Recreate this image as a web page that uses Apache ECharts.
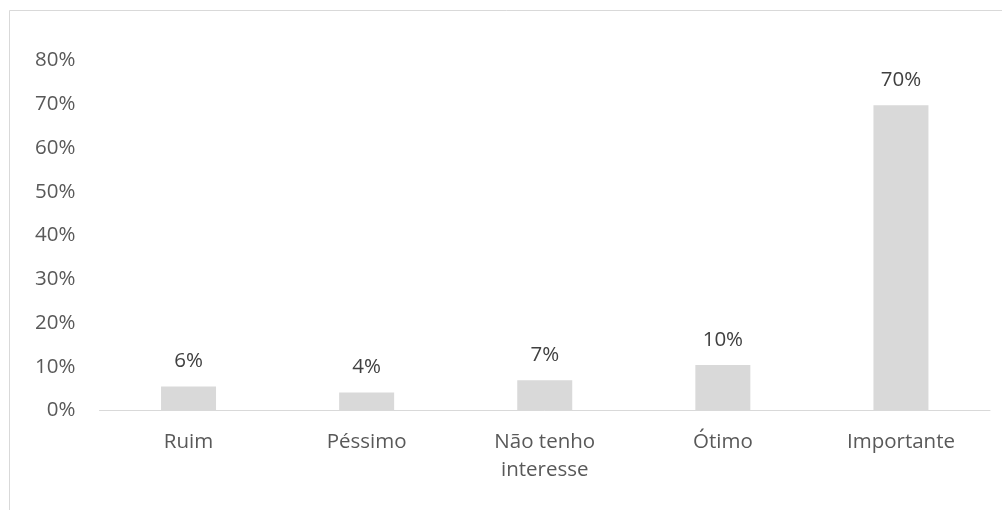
<!DOCTYPE html>
<html>
<head>
<meta charset="utf-8">
<script src="https://cdn.jsdelivr.net/npm/echarts@6/dist/echarts.min.js"></script>
<style>
  html, body { margin: 0; padding: 0; background: #ffffff; }
  #chart { width: 1002px; height: 510px; }
</style>
</head>
<body>
<div id="chart"></div>
<script>
// Survey answers (share of respondents, in percent)
const categories = ['Ruim', 'Péssimo', 'Não tenho\ninteresse', 'Ótimo', 'Importante'];
const shares = [5.5, 4.1, 6.9, 10.4, 69.8];

// Value axis range (percent)
const yMin = 0;
const yMax = 80;
const yStep = 10;

const fontFamily = '"Open Sans", "Noto Sans", sans-serif';
const axisTextColor = '#595959';
const labelTextColor = '#404040';
const lightGray = '#d9d9d9';
const textSize = 20.5;

const chart = echarts.init(document.getElementById('chart'), null, { renderer: 'canvas' });

chart.setOption({
  animation: false,
  backgroundColor: '#ffffff',
  textStyle: { fontFamily: fontFamily },
  graphic: [{
    type: 'rect',
    shape: { x: 9.5, y: 10.5, width: 1200, height: 700 },
    style: { fill: 'none', stroke: lightGray, lineWidth: 1 },
    silent: true,
    z: 0
  }],
  grid: { left: 99.5, right: 12, top: 60.5, bottom: 99.5, containLabel: false },
  xAxis: {
    type: 'category',
    data: categories,
    axisLine: { show: true, lineStyle: { color: lightGray, width: 1 } },
    axisTick: { show: false },
    axisLabel: {
      color: axisTextColor,
      fontSize: textSize,
      fontFamily: fontFamily,
      lineHeight: 28,
      margin: 18,
      interval: 0
    },
    splitLine: { show: false }
  },
  yAxis: {
    type: 'value',
    min: yMin,
    max: yMax,
    interval: yStep,
    axisLine: { show: false },
    axisTick: { show: false },
    splitLine: { show: false },
    axisLabel: {
      color: axisTextColor,
      fontSize: textSize,
      fontFamily: fontFamily,
      margin: 24,
      formatter: '{value}%'
    }
  },
  series: [{
    type: 'bar',
    data: shares,
    barWidth: 55,
    itemStyle: { color: lightGray },
    label: {
      show: true,
      position: 'top',
      distance: 12,
      color: labelTextColor,
      fontSize: textSize,
      fontFamily: fontFamily,
      lineHeight: 26,
      formatter: function (p) { return Math.round(p.value) + '%'; }
    }
  }]
});
</script>
</body>
</html>
